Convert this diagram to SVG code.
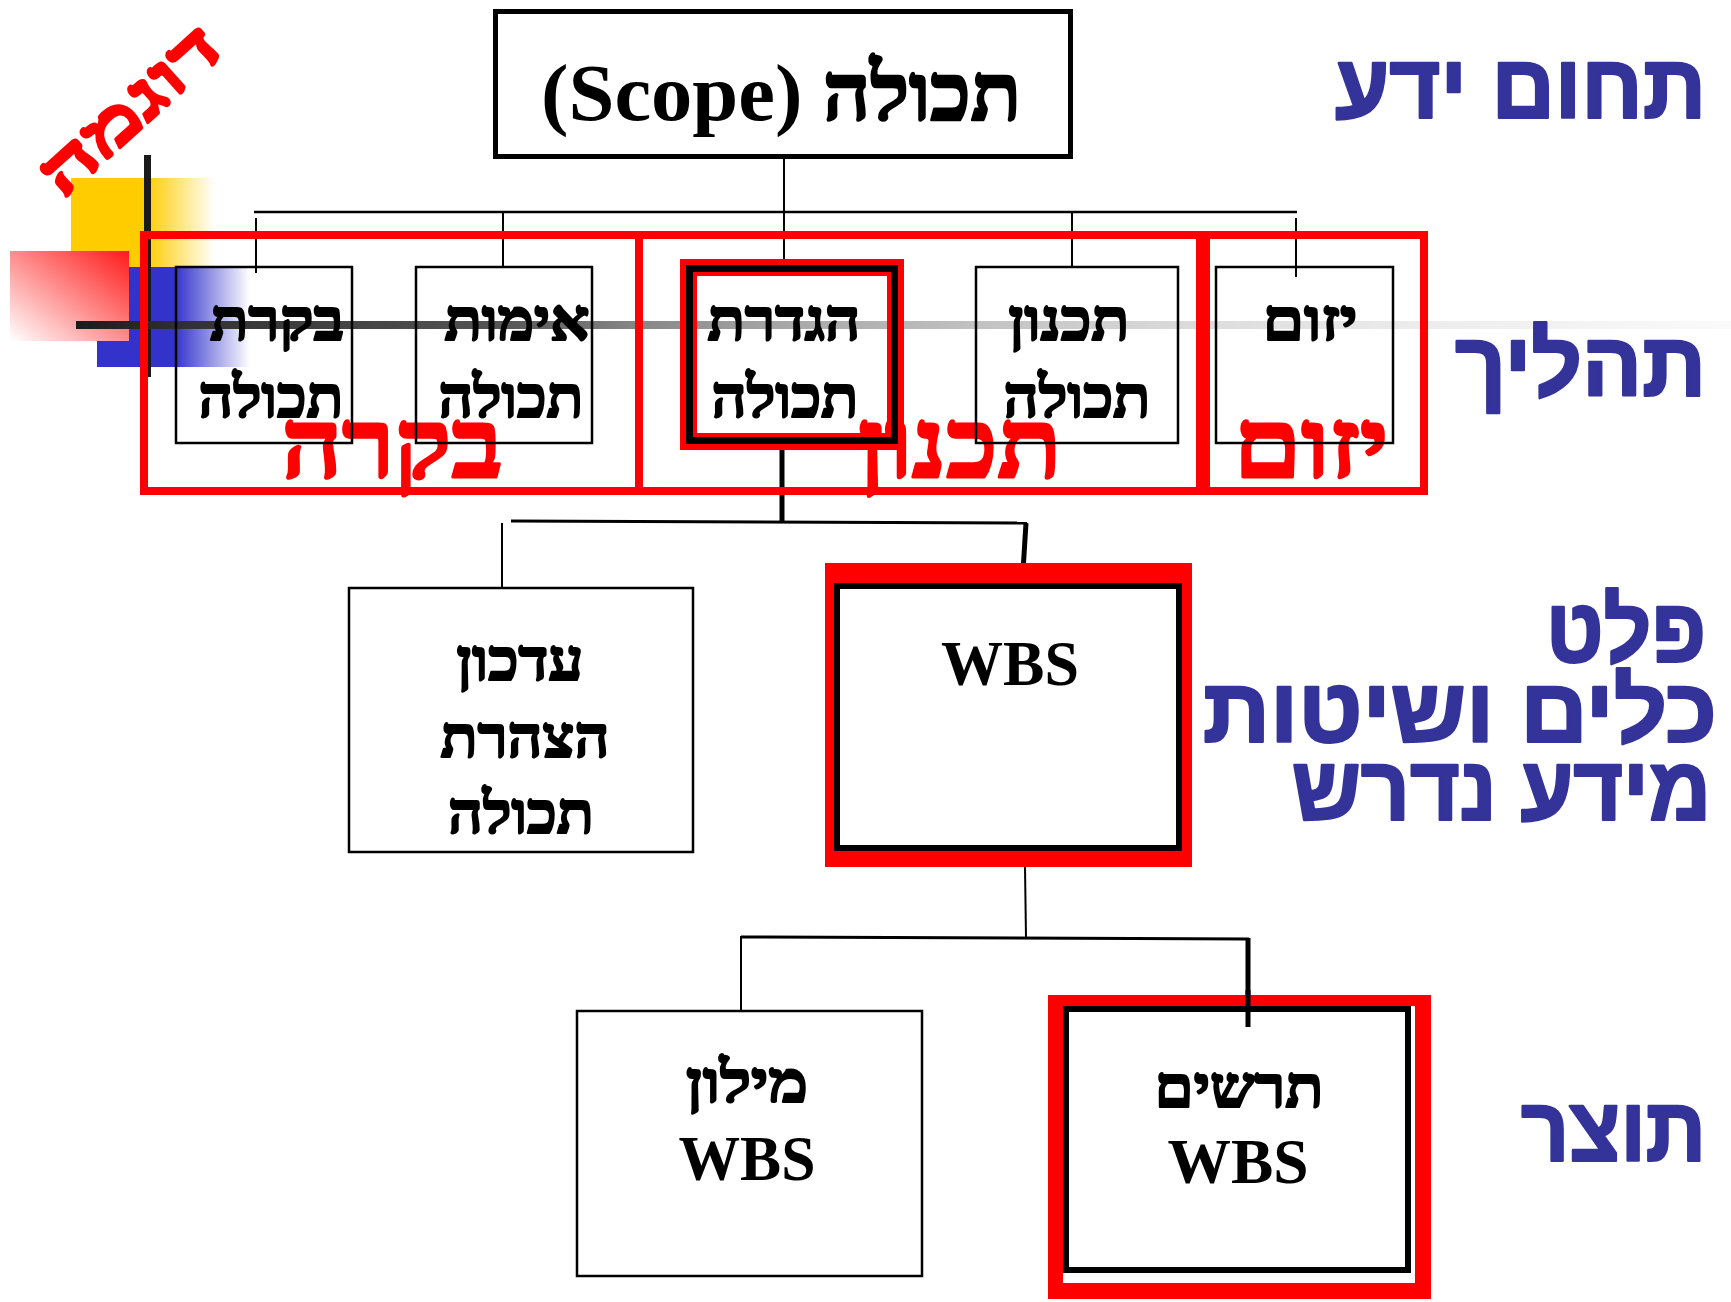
<svg xmlns="http://www.w3.org/2000/svg" width="1731" height="1302" viewBox="0 0 1731 1302">
<defs>
<linearGradient id="gY" x1="0" y1="0" x2="1" y2="0"><stop offset="0" stop-color="#FFCC00"/><stop offset="0.52" stop-color="#FFCC00"/><stop offset="1" stop-color="#FFCC00" stop-opacity="0"/></linearGradient>
<linearGradient id="gB" x1="0" y1="0" x2="1" y2="0"><stop offset="0" stop-color="#3333CC"/><stop offset="0.51" stop-color="#3333CC"/><stop offset="1" stop-color="#3333CC" stop-opacity="0"/></linearGradient>
<linearGradient id="gR" x1="0" y1="1" x2="1" y2="0"><stop offset="0" stop-color="#FFFFFF"/><stop offset="1" stop-color="#FF1A1A"/></linearGradient>
<linearGradient id="gL" gradientUnits="userSpaceOnUse" x1="76" y1="0" x2="1731" y2="0"><stop offset="0" stop-color="#1c1c1c"/><stop offset="0.075" stop-color="#333"/><stop offset="0.256" stop-color="#555"/><stop offset="0.341" stop-color="#888"/><stop offset="0.437" stop-color="#aaa"/><stop offset="0.558" stop-color="#c4c4c4"/><stop offset="0.679" stop-color="#dcdcdc"/><stop offset="0.812" stop-color="#ececec"/><stop offset="1" stop-color="#fafafa"/></linearGradient>
<style>
.box{fill:none;stroke:#000;stroke-width:2.5}
.grp{fill:none;stroke:#FF0000;stroke-width:8}
.t{font-family:"Liberation Serif","DejaVu Serif",serif;font-weight:bold;fill:#000;text-anchor:middle}
.h2{font-size:58px;stroke:#000;stroke-width:2.2;stroke-linejoin:round}
.he{stroke:#000;stroke-width:2.6;stroke-linejoin:round}
.red{font-family:"Liberation Serif","DejaVu Serif",serif;font-weight:bold;fill:#FF0000;stroke:#FF0000;stroke-width:3;stroke-linejoin:round;text-anchor:middle;font-size:96px}
.blue{font-family:"Liberation Sans","DejaVu Sans",sans-serif;font-weight:bold;fill:#333399;stroke:#333399;stroke-width:2.5;stroke-linejoin:round;text-anchor:end;font-size:90px}
.c{stroke:#000;fill:none}
</style>
</defs>
<g id="decor">
<rect x="71" y="178" width="144" height="89" fill="url(#gY)"/>
<rect x="97" y="267" width="153" height="100" fill="url(#gB)"/>
<rect x="10" y="251" width="119" height="90" fill="url(#gR)"/>
<rect x="144" y="155" width="7" height="222" fill="#1a1a1a"/>
<rect x="76" y="321" width="1655" height="8" fill="url(#gL)"/>
<text x="144" y="126" transform="rotate(-42 144 126)" font-family="Liberation Serif, DejaVu Serif, serif" font-weight="bold" font-size="66" fill="#FF0000" stroke="#FF0000" stroke-width="3" stroke-linejoin="round" text-anchor="middle" textLength="220" lengthAdjust="spacingAndGlyphs">דוגמה</text>
</g>
<g id="connectors">
<line class="c" x1="784" y1="158" x2="784" y2="212" stroke-width="2"/>
<line class="c" x1="254" y1="212" x2="1297" y2="212" stroke-width="2.5"/>
<line class="c" x1="256" y1="218" x2="256" y2="273" stroke-width="2"/>
<line class="c" x1="503" y1="212" x2="503" y2="267" stroke-width="2"/>
<line class="c" x1="784" y1="212" x2="784" y2="266" stroke-width="2"/>
<line class="c" x1="1072" y1="212" x2="1072" y2="267" stroke-width="2"/>
<line class="c" x1="1296" y1="218" x2="1296" y2="277" stroke-width="2"/>
<line class="c" x1="782" y1="448" x2="782" y2="522" stroke-width="5"/>
<line class="c" x1="511" y1="521" x2="1027" y2="523" stroke-width="3"/>
<line class="c" x1="502" y1="523" x2="502" y2="588" stroke-width="2"/>
<line class="c" x1="1026" y1="523" x2="1023" y2="571" stroke-width="5"/>
<line class="c" x1="1025" y1="867" x2="1026" y2="938" stroke-width="2"/>
<line class="c" x1="741" y1="937" x2="1249" y2="939" stroke-width="3"/>
<line class="c" x1="741" y1="936" x2="741" y2="1011" stroke-width="2"/>
<line class="c" x1="1248" y1="938" x2="1248" y2="1027" stroke-width="5"/>
</g>
<g id="group-bikora"><rect class="grp" x="144" y="235" width="495" height="256"/><text class="red" x="392" y="477" textLength="221" lengthAdjust="spacingAndGlyphs">בקרה</text></g>
<g id="group-tichnun"><rect class="grp" x="639" y="235" width="561" height="256"/><text class="red" x="960" y="477" textLength="203" lengthAdjust="spacingAndGlyphs">תכנון</text></g>
<g id="group-yizum"><rect class="grp" x="1206" y="235" width="218" height="256"/><text class="red" x="1311" y="477" textLength="155" lengthAdjust="spacingAndGlyphs">יזום</text></g>
<g id="node-scope">
<rect x="495.5" y="11.5" width="575" height="145" fill="none" stroke="#000" stroke-width="5"/>
<text class="t" x="781" y="120" font-size="80" textLength="480" lengthAdjust="spacingAndGlyphs">(Scope) <tspan class="he">תכולה</tspan></text>
</g>
<g id="node-bakarat">
<rect class="box" x="176" y="267" width="176" height="176"/>
<text class="t h2" x="277" y="340" textLength="134" lengthAdjust="spacingAndGlyphs">בקרת</text>
<text class="t h2" x="271" y="417" textLength="145" lengthAdjust="spacingAndGlyphs">תכולה</text>
</g>
<g id="node-imut">
<rect class="box" x="416" y="267" width="176" height="176"/>
<text class="t h2" x="517" y="340" textLength="145" lengthAdjust="spacingAndGlyphs">אימות</text>
<text class="t h2" x="511" y="417" textLength="145" lengthAdjust="spacingAndGlyphs">תכולה</text>
</g>
<g id="node-hagdarat">
<rect x="688.5" y="267.5" width="207" height="174" fill="none" stroke="#FF0000" stroke-width="17"/>
<rect x="689.5" y="268.5" width="205" height="172" fill="none" stroke="#000" stroke-width="7"/>
<text class="t h2" x="784" y="340" textLength="153" lengthAdjust="spacingAndGlyphs">הגדרת</text>
<text class="t h2" x="785" y="417" textLength="147" lengthAdjust="spacingAndGlyphs">תכולה</text>
</g>
<g id="node-tichnun">
<rect class="box" x="976" y="267" width="202" height="176"/>
<text class="t h2" x="1069" y="340" textLength="121" lengthAdjust="spacingAndGlyphs">תכנון</text>
<text class="t h2" x="1077" y="417" textLength="147" lengthAdjust="spacingAndGlyphs">תכולה</text>
</g>
<g id="node-yizum">
<rect class="box" x="1216" y="267" width="177" height="176"/>
<text class="t h2" x="1310" y="340" textLength="95" lengthAdjust="spacingAndGlyphs">יזום</text>
</g>
<g id="node-idkun">
<rect class="box" x="349" y="588" width="344" height="264"/>
<text class="t h2" x="520" y="680" textLength="127" lengthAdjust="spacingAndGlyphs">עדכון</text>
<text class="t h2" x="525" y="757" textLength="169" lengthAdjust="spacingAndGlyphs">הצהרת</text>
<text class="t h2" x="521" y="833" textLength="146" lengthAdjust="spacingAndGlyphs">תכולה</text>
</g>
<g id="node-wbs">
<rect x="825" y="563" width="367" height="304" fill="#FF0000"/>
<rect x="837" y="586" width="342" height="262" fill="#fff" stroke="#000" stroke-width="6"/>
<text class="t" x="1010" y="685" font-size="64" textLength="138" lengthAdjust="spacingAndGlyphs">WBS</text>
</g>
<g id="node-milon">
<rect class="box" x="577" y="1011" width="345" height="265"/>
<text class="t h2" x="747" y="1102" textLength="122" lengthAdjust="spacingAndGlyphs">מילון</text>
<text class="t" x="747" y="1180" font-size="64" textLength="137" lengthAdjust="spacingAndGlyphs">WBS</text>
</g>
<g id="node-tarshim">
<rect x="1048" y="995" width="383" height="304" fill="#FF0000"/>
<rect x="1063" y="1006" width="352" height="277" fill="#fff"/>
<rect x="1066" y="1009" width="342" height="261" fill="none" stroke="#000" stroke-width="6"/>
<text class="t h2" x="1239" y="1107" textLength="169" lengthAdjust="spacingAndGlyphs">תרשים</text>
<text class="t" x="1238" y="1183" font-size="64" textLength="141" lengthAdjust="spacingAndGlyphs">WBS</text>
</g>
<line class="c" x1="1248" y1="990" x2="1248" y2="1027" stroke-width="5"/>
<g id="labels">
<text class="blue" x="1706" y="118" textLength="371" lengthAdjust="spacingAndGlyphs">תחום ידע</text>
<text class="blue" x="1706" y="396" textLength="251" lengthAdjust="spacingAndGlyphs">תהליך</text>
<text class="blue" x="1706" y="662" textLength="160" lengthAdjust="spacingAndGlyphs">פלט</text>
<text class="blue" x="1717" y="742" textLength="514" lengthAdjust="spacingAndGlyphs">כלים ושיטות</text>
<text class="blue" x="1711" y="820" textLength="419" lengthAdjust="spacingAndGlyphs">מידע נדרש</text>
<text class="blue" x="1706" y="1161" textLength="185" lengthAdjust="spacingAndGlyphs">תוצר</text>
</g>
</svg>
